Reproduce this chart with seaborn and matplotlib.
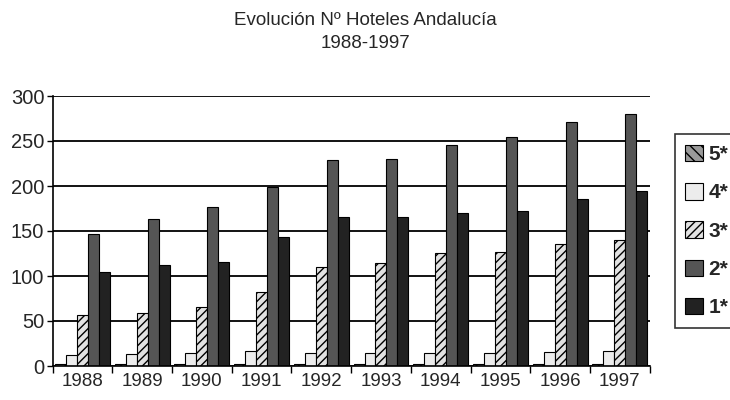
import numpy as np
import pandas as pd
import matplotlib.pyplot as plt
import seaborn as sns

years = ["1988", "1989", "1990", "1991", "1992", "1993", "1994", "1995", "1996", "1997"]
cat5 = [2, 2, 2, 2, 2, 2, 2, 2, 2, 2]
cat4 = [12, 13, 15, 17, 14, 14, 14, 15, 16, 17]
cat3 = [57, 59, 66, 82, 110, 114, 126, 127, 136, 140]
cat2 = [147, 163, 177, 199, 229, 230, 246, 255, 271, 280]
cat1 = [105, 112, 116, 143, 166, 166, 170, 172, 186, 195]
series = ["5*", "4*", "3*", "2*", "1*"]

df = pd.DataFrame({"year": years, "5*": cat5, "4*": cat4, "3*": cat3, "2*": cat2, "1*": cat1})
long = df.melt(id_vars="year", var_name="cat", value_name="n")

colors = ["#9a9a9a", "#ececec", "#e2e2e2", "#555555", "#222222"]
hatches = ["\\\\\\", "", "////", "", ""]

sns.set_style("white")
plt.rcParams["font.family"] = ["Liberation Sans", "DejaVu Sans"]
plt.rcParams["hatch.color"] = "#777777"
plt.rcParams["hatch.linewidth"] = 1.0

fig, ax = plt.subplots(figsize=(7.3, 4.0), dpi=100)
sns.barplot(data=long, x="year", y="n", hue="cat", hue_order=series, order=years,
            palette=colors, width=0.92, edgecolor="black", linewidth=0.8,
            saturation=1, ax=ax)

for cont, h in zip(ax.containers, hatches):
    for bar in cont:
        bar.set_hatch(h)

ax.set_ylim(0, 300)
ax.set_xlim(-0.5, 9.5)
ax.set_yticks(range(0, 301, 50))
ax.yaxis.grid(True, color="black", linewidth=1.3)
ax.set_axisbelow(True)
ax.set_xlabel("")
ax.set_ylabel("")
ax.tick_params(axis="y", labelsize=14.5, length=4, width=1, left=True, color="black", pad=2)
ax.tick_params(axis="x", which="major", labelsize=13.5, length=0, pad=5)
ax.set_xticks(np.arange(-0.5, 10, 1), minor=True)
ax.tick_params(axis="x", which="minor", length=5, width=1, bottom=True, color="black")
for s in ["top", "right"]:
    ax.spines[s].set_visible(False)
for s in ["left", "bottom"]:
    ax.spines[s].set_color("black")
    ax.spines[s].set_linewidth(1.2)

leg = ax.legend(loc="center left", bbox_to_anchor=(1.025, 0.5), frameon=True,
                fontsize=15, handlelength=0.85, handleheight=0.85, handletextpad=0.25,
                labelspacing=0.9, borderpad=0.5, fancybox=False, edgecolor="black")
leg.get_frame().set_linewidth(1.2)
for t in leg.get_texts():
    t.set_fontweight("bold")
for p, h in zip(leg.get_patches(), hatches):
    p.set_hatch(h)

fig.suptitle("Evolución Nº Hoteles Andalucía\n1988-1997", fontsize=13.5, y=0.97, x=0.5,
             linespacing=1.5)
fig.subplots_adjust(left=0.072, right=0.89, top=0.76, bottom=0.085)
fig.savefig("out.png")
